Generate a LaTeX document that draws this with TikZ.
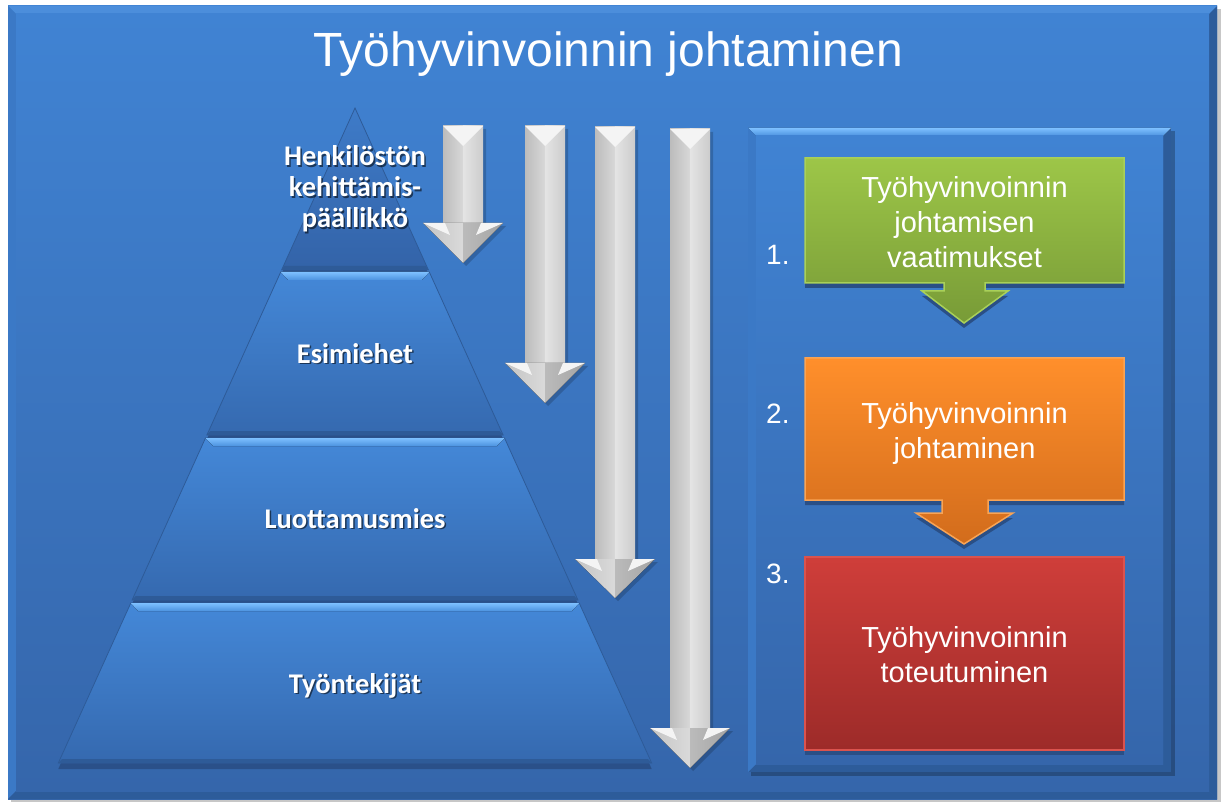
\documentclass[tikz,border=0pt]{standalone}
\usepackage{fontspec}
\setmainfont{Liberation Sans}
\newfontfamily\calfont{Carlito}
\definecolor{bgtop}{HTML}{4083D3}
\definecolor{bgbot}{HTML}{3566AB}
\definecolor{bevlt}{HTML}{4C8EDB}
\definecolor{bevside}{HTML}{3B79C6}
\definecolor{bevdk}{HTML}{2D5C9A}
\definecolor{seclt}{HTML}{4488D8}
\definecolor{secdk}{HTML}{3569AF}
\definecolor{tritop}{HTML}{3E7BC8}
\definecolor{tribot}{HTML}{3363A8}
\definecolor{striplt}{HTML}{7DC0FF}
\definecolor{stripdk}{HTML}{4C92DF}
\definecolor{secedge}{HTML}{2E5B98}
\definecolor{secshadow}{HTML}{2A5089}
\definecolor{ag1}{HTML}{BCBCBC}
\definecolor{ag2}{HTML}{D8D8D8}
\definecolor{ag3}{HTML}{E4E4E4}
\definecolor{ag4}{HTML}{CCCCCC}
\definecolor{ag5}{HTML}{C4C4C4}
\definecolor{ag6}{HTML}{DADADA}
\definecolor{ag7}{HTML}{BBBBBB}
\definecolor{ag8}{HTML}{A4A4A4}
\definecolor{agtop}{HTML}{F4F4F4}
\definecolor{grtop}{HTML}{9DC648}
\definecolor{grbot}{HTML}{789B37}
\definecolor{grline}{HTML}{A9D059}
\definecolor{ortop}{HTML}{FF8F2B}
\definecolor{orbot}{HTML}{D26C1C}
\definecolor{orline}{HTML}{F9A455}
\definecolor{rdtop}{HTML}{CF3E3A}
\definecolor{rdbot}{HTML}{9D2B29}
\definecolor{rdline}{HTML}{DA534E}
\definecolor{boxshadow}{HTML}{2A4F86}
\newcommand{\grayarrow}[4]{%
  \fill[black,opacity=.18] (#1-17,#2+3) -- (#1+23,#2+3) -- (#1+23,#3+3) -- (#1+43,#3+3) -- (#1+3,#4+3) -- (#1-37,#3+3) -- (#1-17,#3+3) -- cycle;
  \fill[left color=ag1, right color=ag2] (#1-20,#2) rectangle (#1,#3);
  \fill[left color=ag3, right color=ag4] (#1,#2) rectangle (#1+20,#3);
  \fill[agtop] (#1-20,#2) -- (#1+20,#2) -- (#1,#2+20) -- cycle;
  \fill[left color=ag5, right color=ag6] (#1-40,#3) -- (#1,#3) -- (#1,#4) -- cycle;
  \fill[left color=ag7, right color=ag8] (#1,#3) -- (#1+40,#3) -- (#1,#4) -- cycle;
  \fill[agtop] (#1-40,#3) -- (#1-18,#3) -- (#1-13,#3+12) -- cycle;
  \fill[agtop] (#1+40,#3) -- (#1+18,#3) -- (#1+13,#3+12) -- cycle;
}
\begin{document}
\begin{tikzpicture}[x=1pt,y=-1pt,
  titletxt/.style={text=white, font=\fontsize{48}{58}\selectfont, inner sep=0pt},
  pyrtxt/.style={text=white, font=\calfont\bfseries\fontsize{28.5}{31}\selectfont, align=center, inner sep=0pt},
  pyrshadow/.style={pyrtxt, text=black, opacity=.55},
  boxtxt/.style={text=white, font=\fontsize{29}{35}\selectfont, align=center, inner sep=0pt},
  numtxt/.style={text=white, font=\fontsize{28}{34}\selectfont, inner sep=0pt}]
\useasboundingbox (0,0) rectangle (1224,802);
\fill[white] (0,0) rectangle (1224,802);
% outer frame
\fill[black!22] (11,9) rectangle (1221,802);
\fill[top color=bgtop, bottom color=bgbot] (8,6) rectangle (1217,799);
\fill[bevlt] (8,6) -- (1217,6) -- (1209,14) -- (16,14) -- cycle;
\fill[bevside] (8,6) -- (16,14) -- (16,791) -- (8,799) -- cycle;
\fill[bevdk] (1217,6) -- (1217,799) -- (1209,791) -- (1209,14) -- cycle;
\fill[bevdk] (8,799) -- (16,791) -- (1209,791) -- (1217,799) -- cycle;
\fill[top color=bgtop, bottom color=bgbot] (16,14) rectangle (1209,791);

% title
\node[titletxt, anchor=base] (title) at (608,67) {Työhyvinvoinnin johtaminen};

% pyramid: shadows
\fill[secshadow] (355,112) -- (428.4,274) -- (281.6,274) -- cycle;
\fill[secshadow] (280.7,276) -- (429.3,276) -- (503.1,439) -- (206.9,439) -- cycle;
\fill[secshadow] (205.5,442) -- (504.5,442) -- (577.9,604) -- (132.1,604) -- cycle;
\fill[secshadow] (130.8,607) -- (579.2,607) -- (651.7,769) -- (58.3,769) -- cycle;
% sections
\path[top color=tritop, bottom color=tribot, draw=secedge, line width=.8pt] (355,108) -- (428.4,270) -- (281.6,270) -- cycle;
\path[top color=seclt, bottom color=secdk, draw=secedge, line width=.8pt] (280.7,272) -- (429.3,272) -- (503.1,435) -- (206.9,435) -- cycle;
\path[top color=seclt, bottom color=secdk, draw=secedge, line width=.8pt] (205.5,438) -- (504.5,438) -- (577.9,600) -- (132.1,600) -- cycle;
\path[top color=seclt, bottom color=secdk, draw=secedge, line width=.8pt] (130.8,603) -- (579.2,603) -- (651.7,763) -- (58.3,763) -- cycle;
% top bevel strips
\fill[top color=striplt, bottom color=stripdk] (280.7,272) -- (429.3,272) -- (422,280) -- (288,280) -- cycle;
\fill[top color=striplt, bottom color=stripdk] (205.5,438) -- (504.5,438) -- (497,446) -- (213,446) -- cycle;
\fill[top color=striplt, bottom color=stripdk] (130.8,603) -- (579.2,603) -- (572,611) -- (138,611) -- cycle;
% bottom edges
\fill[secedge] (284.5,266) -- (425.5,266) -- (428.4,270) -- (281.6,270) -- cycle;
\fill[secedge] (210.5,431) -- (499.5,431) -- (503.1,435) -- (206.9,435) -- cycle;
\fill[secedge] (135.7,596) -- (574.3,596) -- (577.9,600) -- (132.1,600) -- cycle;
\fill[secedge] (62,759) -- (648,759) -- (651.7,763) -- (58.3,763) -- cycle;

% pyramid labels
\node[pyrshadow, anchor=base] at (356.5,229.5) {Henkilöstön\\kehittämis-\\päällikkö};
\node[pyrtxt, anchor=base] (l1) at (355,228) {Henkilöstön\\kehittämis-\\päällikkö};
\node[pyrshadow, anchor=base] at (356.5,364.5) {Esimiehet};
\node[pyrtxt, anchor=base] (l2) at (355,363) {Esimiehet};
\node[pyrshadow, anchor=base] at (356.5,529.5) {Luottamusmies};
\node[pyrtxt, anchor=base] (l3) at (355,528) {Luottamusmies};
\node[pyrshadow, anchor=base] at (356.5,694.5) {Työntekijät};
\node[pyrtxt, anchor=base] (l4) at (355,693) {Työntekijät};

% gray arrows
\grayarrow{463}{126}{223}{263}
\grayarrow{545}{126}{363}{403}
\grayarrow{615}{127}{559}{598}
\grayarrow{690}{129}{728}{768}

% right panel
\fill[black,opacity=.25] (751,131) rectangle (1175,776);
\fill[bevdk] (748,128) rectangle (1171,772);
\fill[top color=bgtop, bottom color=bgbot] (748,128) rectangle (1163,764);
\fill[top color=striplt, bottom color=stripdk] (748,128) -- (1171,128) -- (1163,136) -- (756,136) -- cycle;
\fill[bevside] (748,128) -- (756,136) -- (756,764) -- (748,772) -- cycle;
\fill[top color=bgtop, bottom color=bgbot] (756,136) rectangle (1163,764);

% green box with arrow
\fill[boxshadow] (805,163) -- (1124,163) -- (1124,288) -- (985,288) -- (985,296) -- (1008,296) -- (964,328) -- (922,296) -- (944,296) -- (944,288) -- (805,288) -- cycle;
\path[top color=grtop, bottom color=grbot, draw=grline, line width=1.5pt] (805,158) -- (1124,158) -- (1124,283) -- (985,283) -- (985,291) -- (1008,291) -- (964,323) -- (922,291) -- (944,291) -- (944,283) -- (805,283) -- cycle;
% orange box with arrow
\fill[boxshadow] (805,363) -- (1124,363) -- (1124,505) -- (988,505) -- (988,518) -- (1013,518) -- (964,549) -- (916,518) -- (942,518) -- (942,505) -- (805,505) -- cycle;
\path[top color=ortop, bottom color=orbot, draw=orline, line width=1.5pt] (805,358) -- (1124,358) -- (1124,500) -- (988,500) -- (988,513) -- (1013,513) -- (964,544) -- (916,513) -- (942,513) -- (942,500) -- (805,500) -- cycle;
% red box
\fill[boxshadow] (805,562) rectangle (1124,755);
\path[top color=rdtop, bottom color=rdbot, draw=rdline, line width=1.5pt] (805,557) rectangle (1124,750);

% box texts
\node[boxtxt, anchor=base] (b1) at (964.5,268) {Työhyvinvoinnin\\johtamisen\\vaatimukset};
\node[boxtxt, anchor=base] (b2) at (964.5,458) {Työhyvinvoinnin\\johtaminen};
\node[boxtxt, anchor=base] (b3) at (964.5,682) {Työhyvinvoinnin\\toteutuminen};
% numbers
\node[numtxt, anchor=base west] (n1) at (766,265) {1.};
\node[numtxt, anchor=base west] (n2) at (766,423) {2.};
\node[numtxt, anchor=base west] (n3) at (766,583) {3.};
\end{tikzpicture}
\end{document}
